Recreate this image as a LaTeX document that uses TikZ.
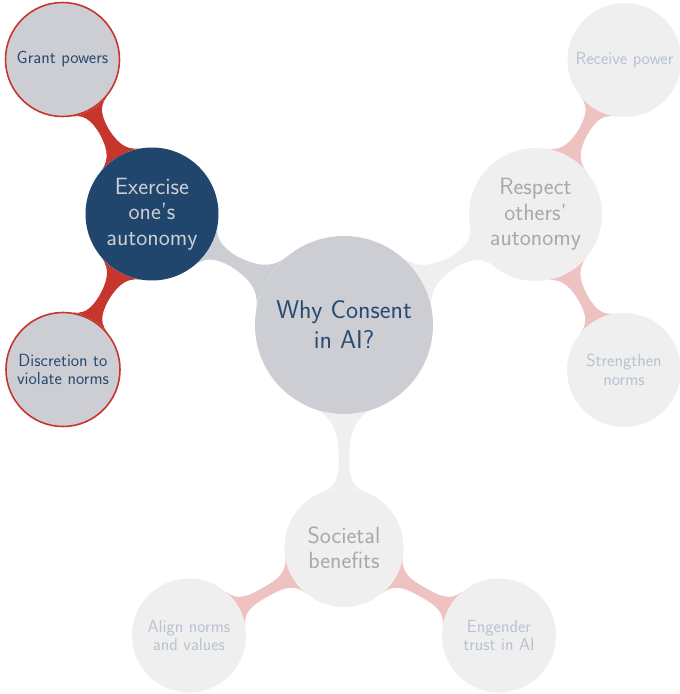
\documentclass[tikz,border=0pt]{standalone}
\usetikzlibrary{mindmap,backgrounds}
\definecolor{rootgray}{HTML}{CDCED3}
\definecolor{navy}{HTML}{21466E}
\definecolor{lightg}{HTML}{EFEFEF}
\definecolor{cred}{HTML}{C6362D}
\definecolor{cpink}{HTML}{EDC2C0}
\definecolor{txtgray}{HTML}{A8A8A8}
\definecolor{txtblue}{HTML}{B8C2D1}
\definecolor{txtnavy}{HTML}{264A72}
\tikzset{
  bubble/.style={circle, inner sep=0pt, align=center, draw=none},
  rootc/.style={bubble, minimum size=178pt, fill=rootgray, text=txtnavy, font=\sffamily\fontsize{25.7}{30}\selectfont},
  lvlone/.style={bubble, minimum size=133pt, font=\sffamily\fontsize{23.5}{25.5}\selectfont},
  lvltwo/.style={bubble, minimum size=114pt, font=\sffamily\fontsize{17.6}{18.5}\selectfont},
  active/.style={lvltwo, fill=rootgray, draw=cred, line width=1.6pt, text=txtnavy},
  faded/.style={lvltwo, fill=lightg, text=txtblue},
  bar/.style args={#1}{circle connection bar switch color=from (#1) to (#1)},
}
\begin{document}
\begin{tikzpicture}[x=1pt,y=-1pt]
\useasboundingbox (0,0) rectangle (680,694);
\node[rootc] (root) at (344,325) {Why Consent\\in AI?};
\node[lvlone, fill=navy, text=rootgray] (ex) at (152,214) {Exercise\\one's\\autonomy};
\node[lvlone, fill=lightg, text=txtgray] (resp) at (535.5,214.5) {Respect\\others'\\autonomy};
\node[lvlone, fill=lightg, text=txtgray, minimum size=119pt] (soc) at (344,547.5) {Societal\\benefits};
\node[active] (grant) at (62.5,59.5) {Grant powers};
\node[active] (disc) at (63,369.5) {Discretion to\\violate norms};
\node[faded] (recv) at (624.5,60) {Receive power};
\node[faded] (stren) at (624,370) {Strengthen\\norms};
\node[faded] (align) at (189,635.5) {Align norms\\and values};
\node[faded] (eng) at (499,635.5) {Engender\\trust in AI};
\begin{scope}[on background layer]
\path (root) to[bar=rootgray] (ex);
\path (root) to[bar=lightg] (resp);
\path (root) to[bar=lightg] (soc);
\path (ex) to[bar=cred] (grant);
\path (ex) to[bar=cred] (disc);
\path (resp) to[bar=cpink] (recv);
\path (resp) to[bar=cpink] (stren);
\path (soc) to[bar=cpink] (align);
\path (soc) to[bar=cpink] (eng);
\end{scope}
\end{tikzpicture}
\end{document}
